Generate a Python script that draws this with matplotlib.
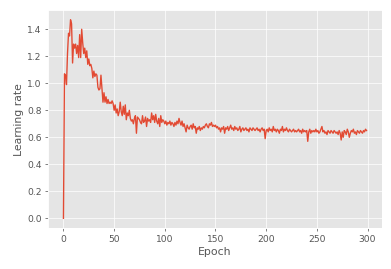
import matplotlib
matplotlib.use("Agg")
import matplotlib.pyplot as plt
import numpy as np

# learning rate per epoch
learning_rate = [
    0.00, 1.07, 1.06, 0.99, 1.22, 1.37, 1.35, 1.47, 1.44, 1.15,
    1.29, 1.26, 1.29, 1.22, 1.28, 1.19, 1.36, 1.19, 1.40, 1.30,
    1.22, 1.26, 1.19, 1.24, 1.14, 1.18, 1.13, 1.14, 1.11, 1.04,
    1.09, 1.05, 1.07, 1.06, 0.97, 0.95, 0.96, 1.06, 0.96, 0.86,
    0.93, 0.86, 0.90, 0.85, 0.88, 0.85, 0.86, 0.85, 0.87, 0.85,
    0.80, 0.84, 0.78, 0.81, 0.76, 0.79, 0.86, 0.79, 0.76, 0.83,
    0.77, 0.84, 0.73, 0.78, 0.76, 0.80, 0.74, 0.72, 0.73, 0.70,
    0.74, 0.76, 0.63, 0.75, 0.74, 0.73, 0.71, 0.70, 0.76, 0.71,
    0.72, 0.75, 0.68, 0.74, 0.72, 0.73, 0.71, 0.78, 0.73, 0.76,
    0.71, 0.77, 0.72, 0.70, 0.74, 0.68, 0.76, 0.71, 0.73, 0.72,
    0.70, 0.72, 0.69, 0.71, 0.70, 0.72, 0.69, 0.71, 0.70, 0.68,
    0.71, 0.69, 0.72, 0.70, 0.74, 0.71, 0.69, 0.72, 0.68, 0.70,
    0.67, 0.64, 0.69, 0.67, 0.66, 0.68, 0.69, 0.66, 0.70, 0.67,
    0.68, 0.63, 0.67, 0.66, 0.68, 0.65, 0.67, 0.66, 0.68, 0.67,
    0.69, 0.70, 0.68, 0.67, 0.70, 0.69, 0.71, 0.68, 0.69, 0.68,
    0.69, 0.67, 0.68, 0.66, 0.67, 0.64, 0.67, 0.66, 0.68, 0.63,
    0.67, 0.66, 0.68, 0.65, 0.67, 0.69, 0.66, 0.67, 0.65, 0.68,
    0.66, 0.67, 0.65, 0.66, 0.68, 0.64, 0.66, 0.67, 0.65, 0.66,
    0.67, 0.65, 0.66, 0.64, 0.67, 0.66, 0.65, 0.67, 0.66, 0.65,
    0.66, 0.67, 0.65, 0.66, 0.64, 0.66, 0.67, 0.65, 0.66, 0.59,
    0.65, 0.66, 0.64, 0.67, 0.65, 0.66, 0.64, 0.68, 0.65, 0.66,
    0.64, 0.66, 0.65, 0.63, 0.66, 0.65, 0.68, 0.64, 0.66, 0.65,
    0.67, 0.65, 0.64, 0.66, 0.65, 0.64, 0.65, 0.66, 0.64, 0.65,
    0.64, 0.65, 0.66, 0.64, 0.65, 0.63, 0.66, 0.64, 0.65, 0.64,
    0.65, 0.57, 0.64, 0.66, 0.63, 0.65, 0.64, 0.65, 0.64, 0.66,
    0.64, 0.65, 0.63, 0.64, 0.66, 0.68, 0.64, 0.65, 0.63, 0.64,
    0.62, 0.65, 0.64, 0.63, 0.65, 0.64, 0.63, 0.65, 0.64, 0.63,
    0.64, 0.62, 0.65, 0.63, 0.58, 0.64, 0.60, 0.65, 0.64, 0.62,
    0.66, 0.64, 0.60, 0.63, 0.65, 0.64, 0.66, 0.63, 0.64, 0.62,
    0.65, 0.64, 0.63, 0.65, 0.64, 0.63, 0.65, 0.64, 0.66, 0.65,
]
epochs = np.arange(len(learning_rate))

plt.style.use("ggplot")

fig = plt.figure(figsize=(6.0, 4.12), dpi=65.333)
ax = fig.add_axes([0.1232, 0.1513, 0.8505, 0.8115])

ax.plot(epochs, learning_rate)
ax.set_xlabel("Epoch")
ax.set_ylabel("Learning rate")
ax.set_yticks(np.arange(0, 1.41, 0.2))

fig.savefig("out.png", dpi=65.333)
